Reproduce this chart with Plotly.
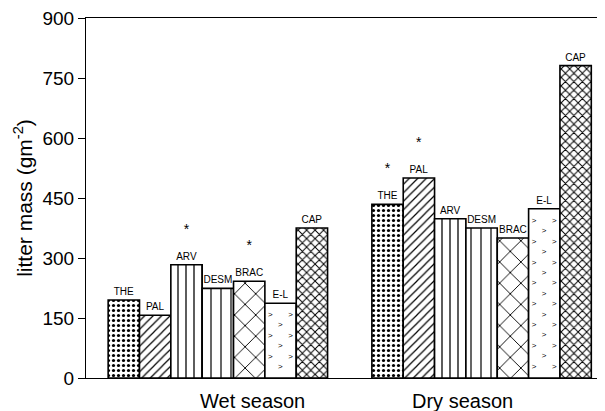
import plotly.graph_objects as go

# ---- data ----
seasons = ["Wet season", "Dry season"]
species = ["THE", "PAL", "ARV", "DESM", "BRAC", "E-L", "CAP"]
wet_mass = [195, 157, 283, 224, 242, 187, 375]
dry_mass = [434, 500, 398, 375, 350, 423, 781]
wet_sig = [False, False, True, False, True, False, False]
dry_sig = [True, True, False, False, False, False, False]
y_ticks = [0, 150, 300, 450, 600, 750, 900]

# ---- styles ----
patterns = {
    "THE": dict(shape=".", size=5, solidity=0.33),
    "PAL": dict(shape="/", size=6, solidity=0.2),
    "ARV": dict(shape="|", size=8, solidity=0.16),
    "DESM": dict(shape="|", size=10, solidity=0.12),
    "BRAC": dict(shape="x", size=15, solidity=0.12),
    "E-L": dict(shape="", size=8, solidity=0.1),
    "CAP": dict(shape="x", size=6, solidity=0.3),
}
FONT = "Liberation Sans, Arial, sans-serif"

fig = go.Figure()
for i, sp in enumerate(species):
    vals = [wet_mass[i], dry_mass[i]]
    sigs = [wet_sig[i], dry_sig[i]]
    texts = []
    for s in sigs:
        star = "<span style='font-size:14px'>*</span><br> <br>" if s else ""
        texts.append(star + sp)
    pat = patterns[sp]
    fig.add_trace(go.Bar(
        x=seasons, y=vals, name=sp, offsetgroup=sp,
        marker=dict(color="white",
                    line=dict(color="black", width=1.6),
                    pattern=dict(shape=pat["shape"], size=pat["size"],
                                 solidity=pat["solidity"], fgcolor="black",
                                 fgopacity=1, bgcolor="white",
                                 fillmode="overlay")),
        text=texts, textposition="outside", cliponaxis=False,
        constraintext="none",
        textfont=dict(family=FONT, size=10, color="black"),
        showlegend=False,
    ))

# decorative ">" marks for the E-L bars (overlay in same slot)
el_idx = species.index("E-L")
el_vals = [wet_mass[el_idx], dry_mass[el_idx]]
px_per_unit = 362 / 900
el_texts = []
for v in el_vals:
    rows = int(v * px_per_unit / 11)
    lines = []
    for r in range(rows):
        if r % 2 == 0:
            lines.append(">\u00a0\u00a0\u00a0\u00a0\u00a0\u00a0\u00a0>")
        else:
            lines.append("\u00a0\u00a0\u00a0\u00a0>\u00a0\u00a0\u00a0\u00a0")
    el_texts.append("<br>".join(lines))
fig.add_trace(go.Bar(
    x=seasons, y=el_vals, offsetgroup="E-L",
    marker=dict(color="rgba(0,0,0,0)", line=dict(width=0)),
    text=el_texts, textposition="inside", insidetextanchor="middle",
    textangle=0, textfont=dict(family=FONT, size=8, color="black"),
    constraintext="none", showlegend=False, hoverinfo="skip",
))

fig.update_layout(
    width=597, height=403,
    margin=dict(l=78, r=0, t=8, b=33),
    paper_bgcolor="white", plot_bgcolor="white",
    barmode="group", bargap=0.168, bargroupgap=0,
    font=dict(family=FONT, color="black"),
    xaxis=dict(type="category", range=[-0.5, 1.468], showticklabels=False,
               ticks="", showline=True, mirror=True, linecolor="black",
               linewidth=1, showgrid=False, zeroline=False),
    yaxis=dict(range=[0, 900], tickvals=y_ticks, ticks="outside", ticklen=7,
               tickcolor="black", showline=True, linecolor="black", linewidth=1,
               showgrid=False, zeroline=False, ticklabeloverflow="allow",
               tickfont=dict(family=FONT, size=19, color="black"),
               title=dict(text="litter mass (gm<sup>-2</sup>)",
                          font=dict(family=FONT, size=21, color="black"),
                          standoff=4)),
    annotations=[
        dict(text=seasons[0], xref="paper", yref="paper", x=0.32, y=0,
             xanchor="center", yanchor="middle", yshift=-23, showarrow=False,
             font=dict(family=FONT, size=20, color="black")),
        dict(text=seasons[1], xref="paper", yref="paper", x=0.726, y=0,
             xanchor="center", yanchor="middle", yshift=-23, showarrow=False,
             font=dict(family=FONT, size=20, color="black")),
    ],
)

fig.write_html("out.html")
